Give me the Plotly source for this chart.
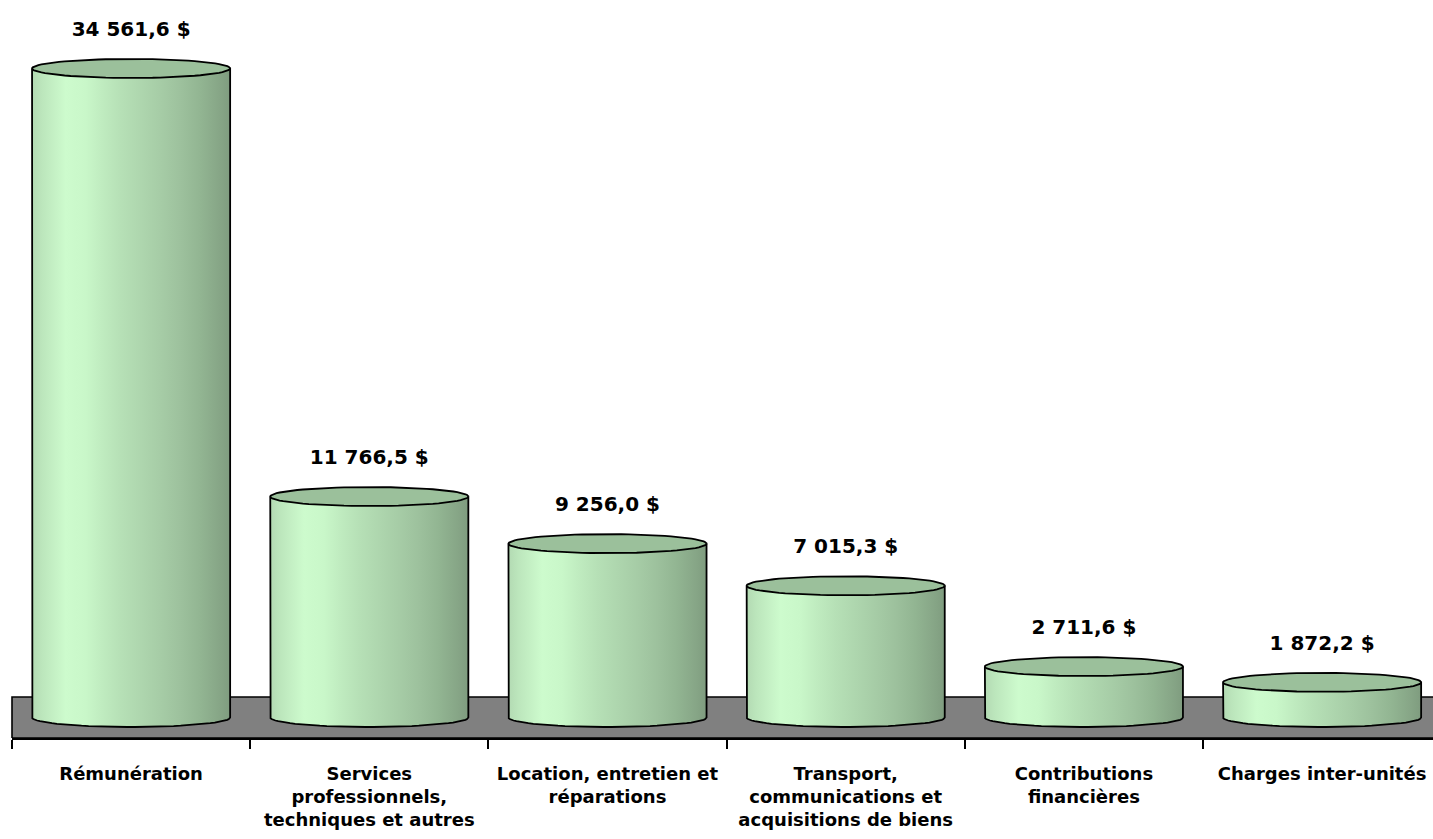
import numpy as np
import plotly.graph_objects as go

# ---- data ----
categories = [
    "Rémunération",
    "Services<br>professionnels,<br>techniques et autres",
    "Location, entretien et<br>réparations",
    "Transport,<br>communications et<br>acquisitions de biens",
    "Contributions<br>financières",
    "Charges inter-unités",
]
values = [34561.6, 11766.5, 9256.0, 7015.3, 2711.6, 1872.2]

# ---- style ----
FONT = "DejaVu Sans"
Y_MIN, Y_MAX = -1092, 38207       # axis range (value units)
FLOOR_HALF = 1092                  # half depth of the floor (value units)
ELL_B = 506                        # vertical semi-axis of the cylinder ellipses (value units)
HALF_W = 0.4158                    # half width of a cylinder (category units)
LABEL_OFF = 2000                   # label distance above cylinder top (value units)

body_scale = [
    [0.00, "#b3dab3"], [0.05, "#bce6bc"], [0.12, "#c6f2c6"], [0.17, "#cdfbcd"],
    [0.27, "#c9f7c9"], [0.35, "#c0ecc0"], [0.45, "#b6e0b6"], [0.55, "#aed6ae"],
    [0.65, "#a6cca6"], [0.75, "#9dc19d"], [0.85, "#92b592"], [0.95, "#86a586"],
    [1.00, "#7f9c7f"],
]
TOP_COLOR = "#9bc09b"


def fr(v):
    return f"{v:,.1f}".replace(",", " ").replace(".", ",") + " $"


fig = go.Figure()
xs = list(range(len(values)))
t_bot = np.linspace(np.pi, 2 * np.pi, 40)
t_all = np.linspace(0, 2 * np.pi, 80)

for xc, v in zip(xs, values):
    # body: left side down, lower half ellipse, right side up
    bx = [xc - HALF_W, xc - HALF_W] + list(xc + HALF_W * np.cos(t_bot)) + [xc + HALF_W, xc - HALF_W]
    by = [v, 0] + list(ELL_B * np.sin(t_bot)) + [v, v]
    fig.add_trace(go.Scatter(
        x=bx, y=by, mode="lines", fill="toself",
        fillgradient=dict(type="horizontal", colorscale=body_scale),
        line=dict(color="black", width=1.8), hoverinfo="skip", showlegend=False,
    ))
    # top ellipse
    fig.add_trace(go.Scatter(
        x=xc + HALF_W * np.cos(t_all), y=v + ELL_B * np.sin(t_all),
        mode="lines", fill="toself", fillcolor=TOP_COLOR,
        line=dict(color="black", width=1.8), hoverinfo="skip", showlegend=False,
    ))

# value labels
fig.add_trace(go.Scatter(
    x=xs, y=[v + LABEL_OFF for v in values], mode="text",
    text=[fr(v) for v in values], textposition="middle center",
    textfont=dict(family=FONT, size=20, color="black", weight="bold"),
    hoverinfo="skip", showlegend=False, cliponaxis=False,
))

# floor
fig.add_shape(type="rect", xref="paper", yref="y", x0=0, x1=1.05,
              y0=-FLOOR_HALF, y1=FLOOR_HALF, fillcolor="#808080",
              line=dict(color="black", width=1.6), layer="below")

fig.update_layout(
    width=1433, height=839,
    margin=dict(l=12, r=0, t=0, b=101),
    paper_bgcolor="white", plot_bgcolor="white",
    showlegend=False,
    xaxis=dict(
        range=[-0.5, -0.5 + 1421 / 238.2],
        tickvals=xs, ticktext=categories, ticks="",
        showgrid=False, zeroline=False,
        showline=True, linecolor="black", linewidth=2,
        tickfont=dict(family=FONT, size=18, color="black", weight="bold"),
        ticklabelstandoff=18,
        minor=dict(tickvals=[i - 0.5 for i in range(len(values) + 1)],
                   ticks="outside", ticklen=9, tickwidth=1.5, tickcolor="black",
                   showgrid=False),
    ),
    yaxis=dict(range=[Y_MIN, Y_MAX], visible=False, showgrid=False, zeroline=False),
)

fig.write_html("out.html", config={"displayModeBar": False},
               post_script="document.body.style.margin='0';document.body.style.overflow='hidden';")
